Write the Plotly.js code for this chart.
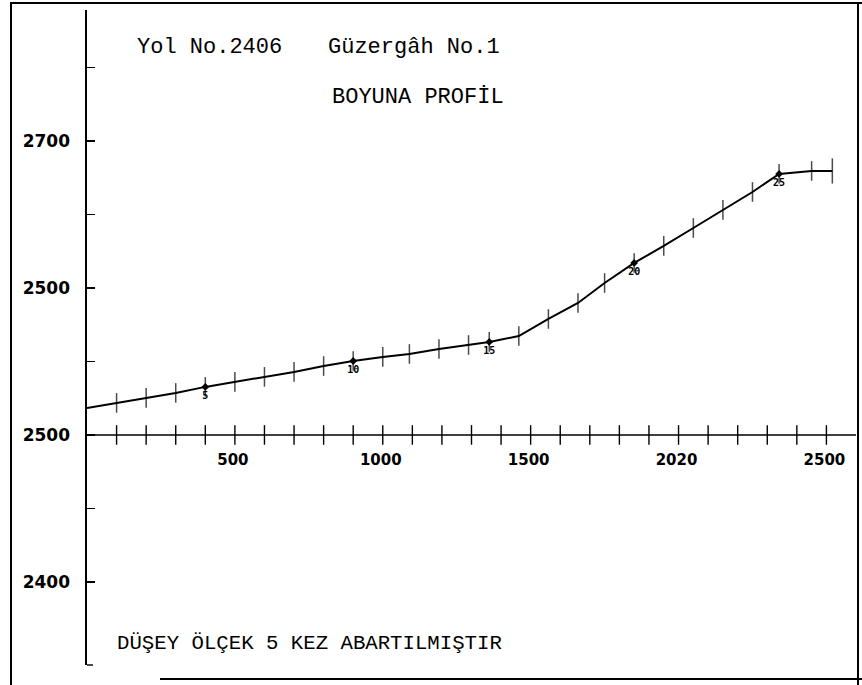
<!DOCTYPE html>
<html>
<head>
<meta charset="utf-8">
<script src="https://cdn.plot.ly/plotly-3.0.1.min.js"></script>
<style>
html,body{margin:0;padding:0;background:#fff;}
#wrap{position:relative;width:862px;height:685px;overflow:hidden;}
#chart{width:862px;height:685px;}
.fl{position:absolute;background:#000;pointer-events:none;z-index:10;}
</style>
</head>
<body>
<div id="wrap">
  <div id="chart"></div>
  <div class="fl" style="left:10px;top:2px;width:2px;height:683px;"></div>
  <div class="fl" style="left:10px;top:2px;width:852px;height:2px;"></div>
  <div class="fl" style="left:857px;top:2px;width:2px;height:683px;"></div>
  <div class="fl" style="left:160px;top:678px;width:702px;height:2px;"></div>
</div>
<script>
// Station distances (m) along the road and their elevations (m)
const stationX = [0,100,200,300,400,500,600,700,800,900,1000,1090,1190,1290,1360,1460,1560,1660,1750,1850,1950,2050,2150,2250,2340,2450,2520];
const stationElev = [2518.4,2521.8,2525.2,2528.6,2532.7,2536.1,2539.5,2542.9,2546.9,2550.3,2553.1,2555.1,2558.5,2561.2,2563.3,2567.3,2578.9,2589.8,2603.4,2617.0,2628.6,2640.8,2653.1,2665.3,2677.6,2679.6,2679.6];
// Labelled stations (station number -> index in arrays above)
const labelNumbers = ["5","10","15","20","25"];
const labelIndex = [4,9,14,19,24];
// Datum (reference) line and its distance ticks
const datumElev = 2500;
const datumX = [0,2600];
const datumTicks = [100,200,300,400,500,600,700,800,900,1000,1100,1200,1300,1400,1500,1600,1700,1800,1900,2000,2100,2200,2300,2400,2500];
// Axis tick labels (as printed)
const xTickVals = [500,1000,1500,2000,2500];
const xTickText = ["500","1000","1500","2020","2500"];
const yTickVals = [2400,2450,2500,2550,2600,2650,2700,2750];
const yTickText = ["2400","","2500","","2500","","2700",""];

const K = '#000';
const markerSizes = stationX.map((_, i) => i === 0 ? 0 : (i === stationX.length - 1 ? 18 : 14));

const traces = [
  { // datum line
    x: datumX, y: datumX.map(() => datumElev), mode: 'lines',
    line: {color: K, width: 1.6}, hoverinfo: 'skip', showlegend: false
  },
  { // datum ticks
    x: datumTicks, y: datumTicks.map(() => datumElev), mode: 'markers',
    marker: {symbol: 'line-ns', size: 14, line: {color: K, width: 1.4}},
    hoverinfo: 'skip', showlegend: false
  },
  { // longitudinal profile
    x: stationX, y: stationElev, mode: 'lines+markers',
    line: {color: K, width: 2},
    marker: {symbol: 'line-ns', size: markerSizes, line: {color: K, width: 1.5}},
    showlegend: false
  },
  { // station dots and numbers
    x: labelIndex.map(i => stationX[i]), y: labelIndex.map(i => stationElev[i]),
    mode: 'markers+text', text: labelNumbers, textposition: 'bottom center',
    textfont: {family: 'DejaVu Sans Mono', size: 10, color: K, weight: 'bold'},
    marker: {symbol: 'diamond', size: 6, color: K},
    showlegend: false, hoverinfo: 'skip'
  }
];

const tf = {family: 'Liberation Mono', size: 22, color: K};
const L = 87, R = 6, T = 10, B = 20, W = 862, H = 685;
const pw = W - L - R, ph = H - T - B;
const fx = px => (px - L) / pw;
const fy = py => (H - B - py) / ph;

const layout = {
  width: W, height: H,
  margin: {l: L, r: R, t: T, b: B, pad: 0},
  paper_bgcolor: '#fff', plot_bgcolor: '#fff',
  showlegend: false,
  xaxis: {
    range: [0, 2600], anchor: 'free', position: fy(435),
    showline: false, showgrid: false, zeroline: false,
    ticks: '', tickvals: xTickVals, ticktext: xTickText,
    ticklabelstandoff: 14, ticklabelshift: -2,
    tickfont: {family: 'DejaVu Sans', size: 15, color: K, weight: 'bold'}
  },
  yaxis: {
    range: [2343.5, 2789.1],
    showline: true, linecolor: K, linewidth: 1.6,
    showgrid: false, zeroline: false,
    ticks: 'inside', ticklen: 8, tickwidth: 1.4, tickcolor: K,
    tickvals: yTickVals, ticktext: yTickText, ticklabelstandoff: 12,
    tickfont: {family: 'DejaVu Sans', size: 17, color: K, weight: 'bold'}
  },
  shapes: [
    {type: 'line', xref: 'paper', yref: 'paper', x0: 0, x1: fx(93), y0: 0, y1: 0, line: {color: K, width: 1.4}}
  ],
  annotations: [
    {text: 'Yol No.2406', xref: 'paper', yref: 'paper', x: fx(135), y: fy(47), xanchor: 'left', yanchor: 'middle', showarrow: false, font: tf},
    {text: 'Güzergâh No.1', xref: 'paper', yref: 'paper', x: fx(326), y: fy(47), xanchor: 'left', yanchor: 'middle', showarrow: false, font: tf},
    {text: 'BOYUNA PROFİL', xref: 'paper', yref: 'paper', x: fx(330), y: fy(97), xanchor: 'left', yanchor: 'middle', showarrow: false, font: tf},
    {text: 'DÜŞEY ÖLÇEK 5 KEZ ABARTILMIŞTIR', xref: 'paper', yref: 'paper', x: fx(115), y: fy(643), xanchor: 'left', yanchor: 'middle', showarrow: false, font: {family: 'Liberation Mono', size: 20.7, color: K}}
  ]
};

Plotly.newPlot('chart', traces, layout, {displayModeBar: false, staticPlot: true});
</script>
</body>
</html>
